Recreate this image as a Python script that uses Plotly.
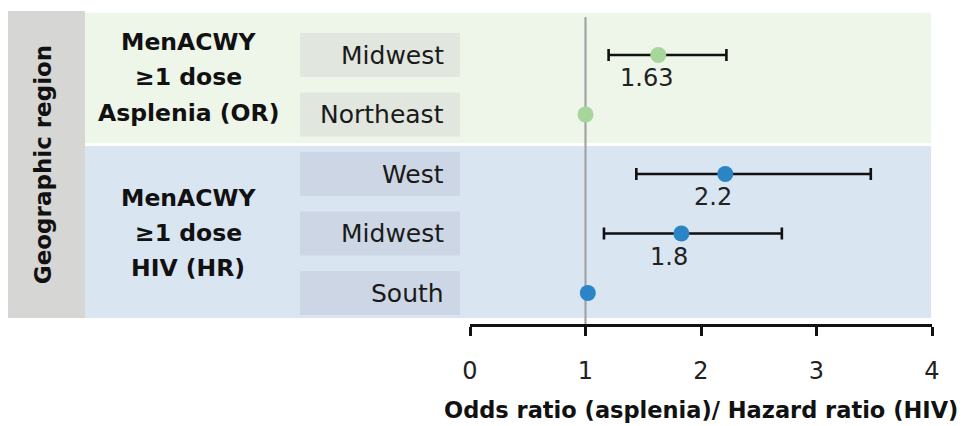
import plotly.graph_objects as go

# ---- data ----
rows = ["Midwest", "Northeast", "West", "Midwest ", "South"]
row_labels = ["Midwest", "Northeast", "West", "Midwest", "South"]
asplenia_idx = [0, 1]
asplenia_est = [1.63, 1.0]
asplenia_lo = [1.20, None]
asplenia_hi = [2.22, None]
asplenia_lbl = ["1.63", ""]

hiv_idx = [2, 3, 4]
hiv_est = [2.21, 1.83, 1.02]
hiv_lo = [1.44, 1.16, None]
hiv_hi = [3.47, 2.70, None]
hiv_lbl = ["2.2", "1.8", ""]

tick_vals = [0, 1, 2, 3, 4]
tick_text = ["0", "1", "2", "3", "4"]

GREEN = "#a6d69c"
BLUE = "#2b84c5"
FONT = "DejaVu Sans"

def err(est, lo, hi):
    plus = [(h - e) if h is not None else 0 for e, h in zip(est, hi)]
    minus = [(e - l) if l is not None else 0 for e, l in zip(est, lo)]
    vis = [h is not None for h in hi]
    return plus, minus, vis

fig = go.Figure()

for idx, est, lo, hi, col in [(asplenia_idx, asplenia_est, asplenia_lo, asplenia_hi, GREEN),
                               (hiv_idx, hiv_est, hiv_lo, hiv_hi, BLUE)]:
    plus, minus, vis = err(est, lo, hi)
    ex = [e for e, v in zip(est, vis) if v]
    ey = [i for i, v in zip(idx, vis) if v]
    ep = [p for p, v in zip(plus, vis) if v]
    em = [m for m, v in zip(minus, vis) if v]
    fig.add_trace(go.Scatter(
        x=ex, y=ey, mode="markers",
        marker=dict(size=1, color="rgba(0,0,0,0)"),
        error_x=dict(type="data", symmetric=False, array=ep, arrayminus=em,
                     color="#111111", thickness=2.6, width=6),
        showlegend=False, hoverinfo="skip"))
    fig.add_trace(go.Scatter(
        x=est, y=idx, mode="markers",
        marker=dict(size=16, color=col, line=dict(width=0)),
        showlegend=False))

# value labels
for idx, est, lbls in [(asplenia_idx, asplenia_est, asplenia_lbl),
                       (hiv_idx, hiv_est, hiv_lbl)]:
    for i, e, t in zip(idx, est, lbls):
        if t:
            fig.add_annotation(x=e, y=i, xref="x", yref="y", text=t, showarrow=False,
                               xanchor="center", yanchor="middle",
                               xshift=-12, yshift=-23,
                               font=dict(family=FONT, size=24, color="#222222"))

shapes = []
shapes.append(dict(type="rect", xref="paper", yref="y", x0=-1.0, x1=-0.8333,
                   y0=-0.74, y1=4.42, fillcolor="#d6d6d4", line=dict(width=0), layer="below"))
shapes.append(dict(type="rect", xref="paper", yref="y", x0=-0.8333, x1=0.998,
                   y0=-0.71, y1=1.48, fillcolor="#eef5e9", line=dict(width=0), layer="below"))
shapes.append(dict(type="rect", xref="paper", yref="y", x0=-0.8333, x1=0.998,
                   y0=1.53, y1=4.42, fillcolor="#dae5f2", line=dict(width=0), layer="below"))
for i in range(len(rows)):
    fc = "#e1e7de" if i in asplenia_idx else "#cdd6e4"
    shapes.append(dict(type="rect", xref="paper", yref="y", x0=-0.368, x1=-0.0216,
                       y0=i - 0.37, y1=i + 0.37, fillcolor=fc, line=dict(width=0), layer="below"))
shapes.append(dict(type="line", xref="x", yref="y", x0=1, x1=1, y0=-0.64, y1=4.52,
                   line=dict(color="#a3a3a3", width=2.2), layer="below"))
fig.update_layout(shapes=shapes)

# row labels
for i, t in enumerate(row_labels):
    fig.add_annotation(x=-0.051, y=i, xref="paper", yref="y", text=t, showarrow=False,
                       xanchor="right", yanchor="middle",
                       font=dict(family=FONT, size=25, color="#1a1a1a"))

# group labels (line by line)
group_lines = [(["MenACWY", "≥1 dose", "Asplenia (OR)"], [-0.22, 0.37, 0.975]),
               (["MenACWY", "≥1 dose", "HIV (HR)"], [2.40, 2.99, 3.58])]
for lines, ys in group_lines:
    for t, yy in zip(lines, ys):
        fig.add_annotation(x=-0.6095, y=yy, xref="paper", yref="y", text="<b>" + t + "</b>",
                           showarrow=False, xanchor="center", yanchor="middle",
                           font=dict(family=FONT, size=23.5, color="#111111"))

fig.add_annotation(x=-0.924, y=1.85, xref="paper", yref="y", text="<b>Geographic region</b>",
                   showarrow=False, textangle=-90, xanchor="center", yanchor="middle",
                   font=dict(family=FONT, size=23, color="#111111"))

# axis title
fig.add_annotation(x=0.5, y=-0.272, xref="paper", yref="paper",
                   text="<b>Odds ratio (asplenia)/ Hazard ratio (HIV)</b>",
                   showarrow=False, xanchor="center", yanchor="middle",
                   font=dict(family=FONT, size=22.5, color="#111111"))

fig.update_xaxes(range=[0, 4], tickvals=tick_vals, ticktext=tick_text,
                 showline=True, linecolor="#111111", linewidth=2.6,
                 ticks="outside", ticklen=9, tickwidth=2.6, tickcolor="#111111",
                 showgrid=False, zeroline=False, ticklabelstandoff=14,
                 tickfont=dict(family=FONT, size=24, color="#222222"))
fig.update_yaxes(range=[4.521, -0.790], showticklabels=False, showgrid=False,
                 zeroline=False, showline=False, ticks="")

fig.update_layout(width=967, height=426,
                  margin=dict(l=462, r=43, t=0, b=110),
                  paper_bgcolor="white", plot_bgcolor="rgba(0,0,0,0)",
                  font=dict(family=FONT))

fig.write_html("out.html")
